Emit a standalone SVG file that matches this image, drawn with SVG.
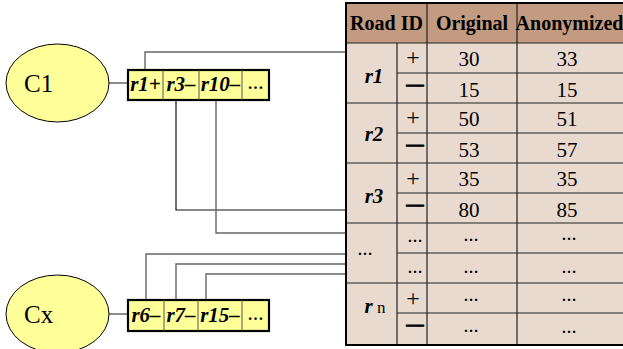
<svg xmlns="http://www.w3.org/2000/svg" width="623" height="349" viewBox="0 0 623 349">
<style>
  text { font-family: "Liberation Serif", "Times New Roman", serif; fill: #000; }
  .ell { fill: #FFFF99; stroke: #000; stroke-width: 1; }
  .lbl { font-size: 25px; }
  .box { fill: #FFFF99; stroke: #000; stroke-width: 2.2; }
  .sep { stroke: #555; stroke-width: 1; }
  .cell { font-size: 21px; font-weight: bold; font-style: italic; text-anchor: middle; }
  .dots { font-size: 16px; font-weight: bold; text-anchor: middle; }
  .con { fill: none; stroke: #666; stroke-width: 1.4; }
  .conk { fill: none; stroke: #111; stroke-width: 1.2; }
  .hdr { fill: #C29B80; }
  .body { fill: #E9DAD0; }
  .tl { stroke: #222; stroke-width: 1.2; }
  .th { font-size: 20px; font-weight: bold; text-anchor: middle; }
  .num { font-size: 21px; text-anchor: middle; }
  .plus { font-size: 24px; text-anchor: middle; }
  .minus { font-size: 17px; font-weight: bold; text-anchor: middle; stroke: #000; stroke-width: 1.1; }
  .rid { font-size: 21px; font-weight: bold; font-style: italic; text-anchor: middle; }
  .td { font-size: 15px; font-weight: bold; text-anchor: middle; }
</style>

<g id="connectors">
  <line class="con" x1="77" y1="83" x2="128" y2="83"/>
  <line class="con" x1="77" y1="314" x2="128" y2="314"/>
  <polyline class="con" points="145,70 145,52 346,52"/>
  <polyline class="conk" points="176,100 176,210 346,210"/>
  <polyline class="con" points="216,100 216,233 346,233"/>
  <polyline class="con" points="146,300 146,254 346,254"/>
  <polyline class="con" points="176,300 176,264 346,264"/>
  <polyline class="con" points="206,300 206,274 346,274"/>
</g>

<g id="C1">
  <ellipse class="ell" cx="57.5" cy="83" rx="51.5" ry="39"/>
  <text class="lbl" x="24" y="92">C1</text>
</g>

<g id="C1-list">
  <rect class="box" x="128" y="70" width="141" height="30"/>
  <line class="sep" x1="163" y1="70" x2="163" y2="100"/>
  <line class="sep" x1="199" y1="70" x2="199" y2="100"/>
  <line class="sep" x1="242" y1="70" x2="242" y2="100"/>
  <text class="cell" x="145.5" y="91">r1+</text>
  <text class="cell" x="181" y="91">r3–</text>
  <text class="cell" x="220.5" y="91">r10–</text>
  <text class="dots" x="255.5" y="89">…</text>
</g>

<g id="Cx">
  <ellipse class="ell" cx="57.5" cy="314" rx="51.5" ry="39"/>
  <text class="lbl" x="24" y="323">Cx</text>
</g>

<g id="Cx-list">
  <rect class="box" x="128" y="300" width="141" height="31"/>
  <line class="sep" x1="164" y1="300" x2="164" y2="331"/>
  <line class="sep" x1="198" y1="300" x2="198" y2="331"/>
  <line class="sep" x1="242" y1="300" x2="242" y2="331"/>
  <text class="cell" x="146" y="322">r6–</text>
  <text class="cell" x="181" y="322">r7–</text>
  <text class="cell" x="220" y="322">r15–</text>
  <text class="dots" x="255.5" y="320">…</text>
</g>

<g id="table">
  <rect class="body" x="346" y="3" width="290" height="342"/>
  <rect class="hdr" x="346" y="3" width="290" height="40"/>
  <line class="tl" x1="346" y1="43" x2="630" y2="43"/>
  <line class="tl" x1="346" y1="103" x2="630" y2="103"/>
  <line class="tl" x1="346" y1="163" x2="630" y2="163"/>
  <line class="tl" x1="346" y1="223" x2="630" y2="223"/>
  <line class="tl" x1="346" y1="283" x2="630" y2="283"/>
  <line class="tl" x1="397" y1="73" x2="630" y2="73"/>
  <line class="tl" x1="397" y1="133" x2="630" y2="133"/>
  <line class="tl" x1="397" y1="193" x2="630" y2="193"/>
  <line class="tl" x1="397" y1="253" x2="630" y2="253"/>
  <line class="tl" x1="397" y1="313" x2="630" y2="313"/>
  <line class="tl" x1="397" y1="43" x2="397" y2="345"/>
  <line class="tl" x1="427" y1="3" x2="427" y2="345"/>
  <line class="tl" x1="517" y1="3" x2="517" y2="345"/>
  <rect x="346" y="3" width="290" height="342" fill="none" stroke="#000" stroke-width="2"/>

  <text class="th" x="386.5" y="30">Road ID</text>
  <text class="th" x="472" y="30">Original</text>
  <text class="th" x="569.5" y="30" font-size="19">Anonymized</text>

  <text class="rid" x="374" y="83">r1</text>
  <text class="rid" x="374" y="141">r2</text>
  <text class="rid" x="374" y="203">r3</text>
  <text class="td" x="365" y="255">…</text>
  <text x="375" y="313" font-size="21" text-anchor="middle"><tspan font-weight="bold" font-style="italic">r</tspan><tspan font-size="17"> n</tspan></text>

  <text class="plus" x="413" y="65">+</text>
  <text class="minus" x="415" y="90">—</text>
  <text class="plus" x="413" y="125">+</text>
  <text class="minus" x="415" y="150">—</text>
  <text class="plus" x="413" y="186">+</text>
  <text class="minus" x="415" y="210">—</text>
  <text class="td" x="415" y="242">…</text>
  <text class="td" x="415" y="273">…</text>
  <text class="plus" x="413" y="306">+</text>
  <text class="minus" x="415" y="330">—</text>

  <text class="num" x="469" y="66">30</text>
  <text class="num" x="469" y="97">15</text>
  <text class="num" x="469" y="126">50</text>
  <text class="num" x="469" y="157">53</text>
  <text class="num" x="469" y="186">35</text>
  <text class="num" x="469" y="217">80</text>
  <text class="td" x="471" y="241">…</text>
  <text class="td" x="471" y="273">…</text>
  <text class="td" x="471" y="301">…</text>
  <text class="td" x="471" y="332">…</text>

  <text class="num" x="567" y="66">33</text>
  <text class="num" x="567" y="97">15</text>
  <text class="num" x="567" y="126">51</text>
  <text class="num" x="567" y="157">57</text>
  <text class="num" x="567" y="186">35</text>
  <text class="num" x="567" y="217">85</text>
  <text class="td" x="569" y="240">…</text>
  <text class="td" x="569" y="273">…</text>
  <text class="td" x="569" y="301">…</text>
  <text class="td" x="569" y="333">…</text>
</g>
</svg>
